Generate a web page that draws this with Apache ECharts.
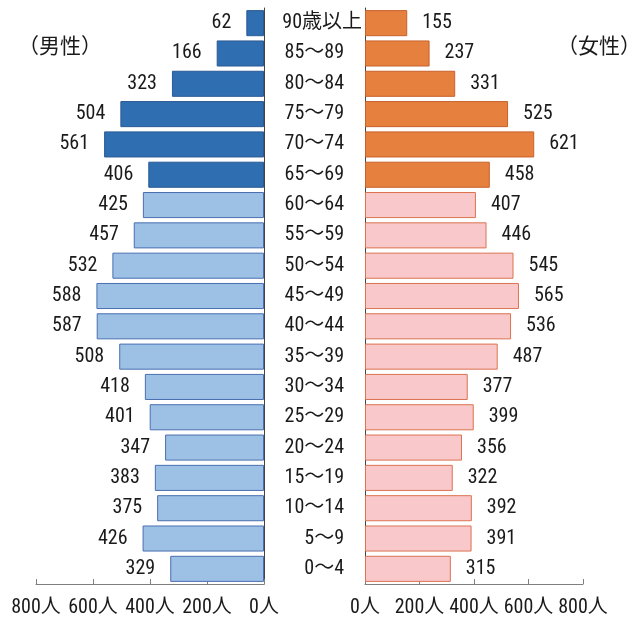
<!DOCTYPE html>
<html>
<head>
<meta charset="utf-8">
<script src="https://cdn.jsdelivr.net/npm/echarts@6/dist/echarts.min.js"></script>
<style>html,body{margin:0;padding:0;background:#fff;}#c{width:644px;height:619px;}</style>
</head>
<body>
<div id="c"></div>
<script>
const ages = ['90歳以上','85～89','80～84','75～79','70～74','65～69','60～64','55～59','50～54','45～49','40～44','35～39','30～34','25～29','20～24','15～19','10～14','5～9','0～4'];
const male = [62,166,323,504,561,406,425,457,532,588,587,508,418,401,347,383,375,426,329];
const female = [155,237,331,525,621,458,407,446,545,565,536,487,377,399,356,322,392,391,315];
const axisTicks = [0,200,400,600,800];
const elderlyGroups = 6;

const FONT = "'Roboto Condensed', 'Noto Sans CJK JP', sans-serif";
const FS = 20;
const TXT = '#1a1a1a';
const chart = echarts.init(document.getElementById('c'), null, {renderer:'canvas'});

const maleDark = {color:'#2F6EB1', borderColor:'#2A5A94', borderWidth:1};
const maleLight = {color:'#9DC1E5', borderColor:'#4A6FB0', borderWidth:1};
const femDark = {color:'#E6803F', borderColor:'#C8602A', borderWidth:1};
const femLight = {color:'#F9C8CA', borderColor:'#DB7350', borderWidth:1};

const xBase = {
  type:'value', min:axisTicks[0], max:axisTicks[axisTicks.length-1], interval:axisTicks[1]-axisTicks[0],
  splitLine:{show:false},
  axisLine:{show:true, lineStyle:{color:'#7f7f7f', width:1}},
  axisTick:{show:true, inside:true, length:5, lineStyle:{color:'#7f7f7f'}},
  axisLabel:{formatter:'{value}人', fontFamily:FONT, fontSize:FS, color:TXT, margin:14}
};

chart.setOption({
  animation:false,
  textStyle:{fontFamily:FONT},
  graphic:[
    {type:'text', left:18, top:35, style:{text:'（男性）', font:"21px 'Noto Sans CJK JP'", fill:TXT}},
    {type:'text', left:557, top:35, style:{text:'（女性）', font:"21px 'Noto Sans CJK JP'", fill:TXT}}
  ],
  grid:[
    {left:36, width:228, top:8, height:576},
    {left:365, width:218, top:8, height:576}
  ],
  xAxis:[
    Object.assign({}, xBase, {gridIndex:0, inverse:true}),
    Object.assign({}, xBase, {gridIndex:1})
  ],
  yAxis:[
    {type:'category', gridIndex:0, data:ages, inverse:true, position:'right',
     axisLine:{show:true, lineStyle:{color:'#444', width:1}}, axisTick:{show:false}, axisLabel:{show:false}},
    {type:'category', gridIndex:1, data:ages, inverse:true, position:'left',
     axisLine:{show:true, lineStyle:{color:'#444', width:1}}, axisTick:{show:false},
     axisLabel:{margin:3, align:'right', fontFamily:FONT, fontSize:FS, color:TXT,
       formatter:function(v,i){ return i===0 ? '{w|'+v+'}' : '{n|'+v+'}'; },
       rich:{n:{fontFamily:FONT, fontSize:FS, color:TXT, padding:[0,18,0,0]},
             w:{fontFamily:FONT, fontSize:FS, color:TXT}}}}
  ],
  series:[
    {type:'bar', xAxisIndex:0, yAxisIndex:0, barCategoryGap:'14%',
     data:male.map((v,i)=>({value:v, itemStyle: i<elderlyGroups?maleDark:maleLight})),
     label:{show:true, position:'left', distance:15, fontFamily:FONT, fontSize:FS, color:TXT}},
    {type:'bar', xAxisIndex:1, yAxisIndex:1, barCategoryGap:'14%',
     data:female.map((v,i)=>({value:v, itemStyle: i<elderlyGroups?femDark:femLight})),
     label:{show:true, position:'right', distance:15, fontFamily:FONT, fontSize:FS, color:TXT}}
  ]
});
</script>
</body>
</html>
